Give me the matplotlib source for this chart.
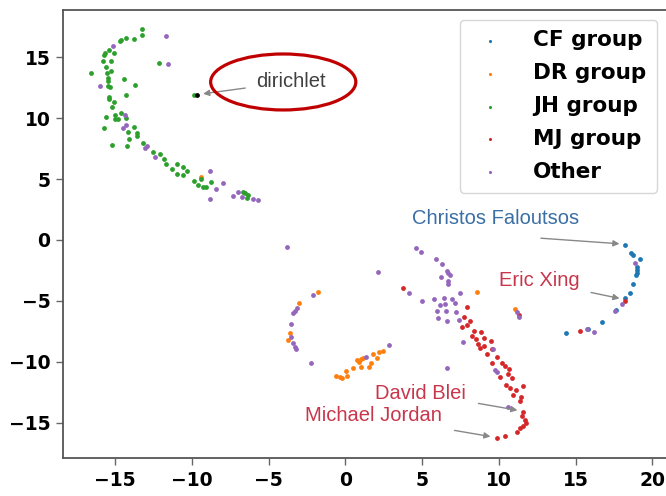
import matplotlib
matplotlib.use('Agg')
import matplotlib.pyplot as plt
from matplotlib.patches import Ellipse

# t-SNE style embedding
cf_x = [14.39, 15.81, 16.72, 17.65, 18.24, 18.52, 18.74, 19.0, 19.0, 19.0, 18.92, 19.17, 18.72, 18.61, 18.24]
cf_y = [-7.67, -7.34, -6.71, -5.75, -4.79, -4.38, -3.62, -2.19, -2.47, -2.69, -2.85, -1.59, -1.25, -1.04, -0.45]

dr_x = [-9.44, -1.81, -3.01, -3.61, -3.72, 8.56, 11.06,
        -0.61, -0.35, -0.24, 0.12, 0.04, 0.52, 0.91, 1.02, 1.17, 1.02, 1.56, 1.65, 1.82, 2.04, 2.19, 2.43, 0.74]
dr_y = [5.2, -4.3, -5.15, -7.62, -8.22, -4.27, -5.67,
        -11.18, -11.23, -11.31, -11.18, -10.74, -10.49, -10.0, -9.78, -9.72, -10.41, -10.41, -10.13, -9.37, -9.67, -9.18, -9.12, -9.86]

jh_x = [-13.25, -13.25, -13.79, -14.27, -14.59, -14.68, -15.4, -15.08, -15.64, -15.73, -15.79, -15.25, -15.57, -15.29,
        -15.53, -16.6, -12.14, -14.44, -15.47, -15.47, -13.72, -15.44, -15.36, -14.27, -15.38, -15.42, -15.08, -15.23,
        -9.88, -14.59, -15.03, -15.62, -14.98, -14.81, -14.27, -15.7, -13.79, -14.16, -13.61, -13.61, -14.1, -15.24,
        -14.2, -13.18, -12.53, -12.05, -11.81, -11.7, -10.97, -10.57, -11.27, -10.31, -10.97, -10.61, -9.44, -9.88,
        -8.77, -9.6, -9.27, -9.05, -6.7, -6.55, -6.33, -6.44]
jh_y = [17.34, 16.84, 16.52, 16.62, 16.43, 16.33, 15.61, 15.34, 15.34, 15.18, 14.73, 14.73, 14.24, 13.91,
        13.7, 13.75, 14.52, 13.23, 13.29, 13.09, 12.74, 12.65, 12.6, 11.91, 11.77, 11.61, 11.34, 10.95,
        11.91, 10.46, 10.27, 10.13, 9.94, 9.94, 10.0, 9.23, 9.26, 8.85, 8.77, 8.57, 8.3, 7.83,
        7.72, 8.0, 7.21, 7.04, 6.63, 6.22, 6.24, 6.02, 5.81, 5.69, 5.42, 5.34, 4.99, 4.85,
        4.74, 4.52, 4.38, 4.38, 3.92, 3.84, 3.7, 3.43]

mj_x = [3.74, 7.95, 7.74, 8.13, 7.95, 7.59, 8.39, 8.83, 8.24, 8.52, 9.06, 9.48, 8.67, 9.04, 8.78, 9.58, 9.22,
        9.87, 9.54, 10.2, 10.41, 10.63, 10.08, 10.59, 10.85, 10.48, 11.6, 10.74, 11.13, 10.91, 11.44, 11.39,
        11.57, 11.5, 11.72, 11.78, 11.57, 11.39, 11.21, 10.41, 9.87, 11.28, 15.26, 18.19]
mj_y = [-3.97, -5.48, -6.35, -6.63, -6.98, -7.17, -7.45, -7.58, -7.89, -8.13, -8.08, -8.3, -8.55, -8.71, -8.9,
        -8.98, -9.37, -9.59, -10.08, -10.08, -10.35, -10.62, -11.28, -11.01, -11.36, -11.91, -12.0, -12.19,
        -12.33, -12.74, -12.88, -13.2, -14.11, -14.46, -14.79, -15.01, -15.28, -15.47, -15.75, -16.11, -16.29,
        -6.16, -7.48, -4.99]

other_x = [-11.66, -15.14, -11.57, -16.01, -14.33, -14.27, -14.49, -12.92, -13.07, -12.42, -8.83, -8.0, -8.4,
           -8.79, -7.31, -6.99, -6.76, -6.01, -5.68,
           -3.83, 2.15, 4.59, 4.91, 5.89, 6.28, 6.61, 6.71, 6.82, 6.22, 6.67, 6.67, 4.15, 7.48, 5.02, 5.8, 6.45,
           6.93, 6.17, 6.5, 7.15, 5.96, 6.56, 7.2, 6.02, 6.65, 7.41, 7.69, 6.61, 9.61, 9.76, 9.87, 10.57, 11.17,
           11.34, -2.09, -3.18, -3.29, -3.4, -3.57, -3.55, -3.4, -3.29, -3.22, -2.26, 1.34, 2.86,
           15.74, 16.22, 17.59, 18.05, 18.89]
other_y = [16.76, 15.94, 14.44, 12.65, 10.27, 9.45, 9.18, 7.75, 7.53, 6.84, 5.69, 4.71, 4.22,
           3.34, 3.62, 3.92, 3.56, 3.39, 3.29,
           -0.55, -2.6, -0.68, -0.96, -1.59, -1.97, -2.55, -2.74, -2.88, -3.02, -3.37, -3.62, -4.38, -4.38, -4.99,
           -4.87, -4.79, -4.85, -5.34, -5.26, -5.2, -5.81, -5.81, -5.89, -6.43, -6.63, -6.57, -8.36, -10.54, -8.98,
           -10.68, -10.85, -13.7, -5.94, -6.35, -4.52, -5.61, -5.81, -5.97, -6.9, -8.0, -8.44, -8.77, -8.98,
           -10.08, -9.59, -8.63, -7.34, -7.53, -5.83, -5.25, -1.87]

groups = ['CF group', 'DR group', 'JH group', 'MJ group', 'Other']
colors = ['#1f77b4', '#ff7f0e', '#2ca02c', '#d62728', '#9467bd']

# highlighted word "dirichlet"
word_x, word_y = -9.7, 11.91

# (label, text x, text y, arrow start x, arrow start y, arrow end x, arrow end y, colour)
notes = [
    ('dirichlet', -3.56, 12.98, -6.35, 12.51, -9.45, 11.98, '#404040'),
    ('Christos Faloutsos', 9.79, 1.73, 12.56, 0.16, 18.04, -0.33, '#3a6ea5'),
    ('Eric Xing', 12.66, -3.37, 15.83, -4.27, 18.04, -4.85, '#c8364b'),
    ('David Blei', 4.92, -12.63, 8.49, -13.39, 11.39, -14.03, '#c8364b'),
    ('Michael Jordan', 1.8, -14.46, 6.93, -15.61, 9.63, -16.19, '#c8364b'),
]

fig = plt.figure(figsize=(6.66, 4.96), dpi=100)
ax = fig.add_axes([0.0946, 0.076, 0.907, 0.904])

series = [(cf_x, cf_y), (dr_x, dr_y), (jh_x, jh_y), (mj_x, mj_y), (other_x, other_y)]
for (xs, ys), name, c in zip(series, groups, colors):
    ax.scatter(xs, ys, s=12, color=c, linewidths=0, label=name)
ax.scatter([word_x], [word_y], s=12, color='black', linewidths=0, zorder=3)

for label, tx, ty, sx, sy, ex, ey, c in notes:
    ax.text(tx, ty, label, color=c, fontsize=14.5, family='Liberation Sans', ha='center', va='center')
    ax.annotate('', xy=(ex, ey), xytext=(sx, sy),
                arrowprops=dict(arrowstyle='-|>', color='#888888', lw=1.0, mutation_scale=9))

ax.add_patch(Ellipse((-4.05, 12.98), 9.46, 4.6, fill=False, edgecolor='#c00000', lw=2.3, zorder=4))

ax.set_xlim(-18.4, 20.96)
ax.set_ylim(-17.94, 18.9)
ax.set_xticks([-15, -10, -5, 0, 5, 10, 15, 20])
ax.set_yticks([-15, -10, -5, 0, 5, 10, 15])
ax.tick_params(labelsize=13.5, length=5, width=1, color='#666666', pad=4)
for lab in ax.get_xticklabels() + ax.get_yticklabels():
    lab.set_fontweight('bold')
for sp in ax.spines.values():
    sp.set_color('#555555')
    sp.set_linewidth(1.3)

leg = ax.legend(loc='upper right', prop={'weight': 'bold', 'size': 15.5}, markerscale=0.65,
                borderaxespad=0.45, labelspacing=0.6, handlelength=1.8, handletextpad=1.1,
                borderpad=0.5)

plt.savefig('out.png', dpi=100)
